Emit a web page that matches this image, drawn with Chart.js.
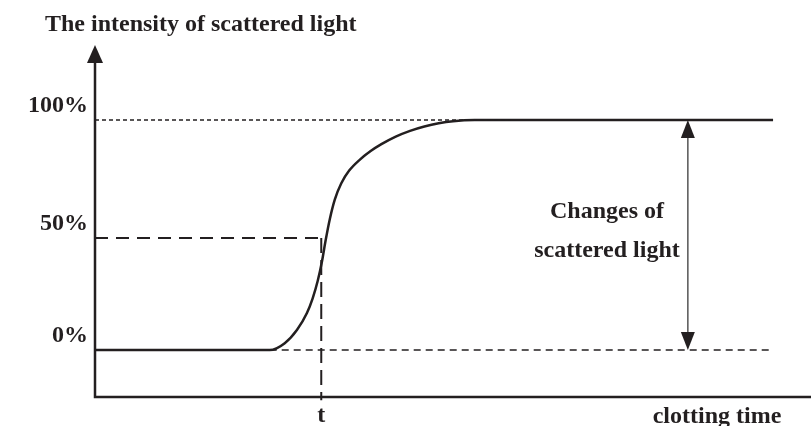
<!DOCTYPE html>
<html>
<head>
<meta charset="utf-8">
<script src="https://cdn.jsdelivr.net/npm/chart.js@4.4.1/dist/chart.umd.min.js"></script>
<style>
  html, body { margin: 0; padding: 0; background: #fff; }
  #wrap { width: 811px; height: 426px; }
</style>
</head>
<body>
<div id="wrap"><canvas id="clotChart"></canvas></div>
<script>
// curve of scattered light intensity vs clotting time
const curveX = [0, 24.4, 26.5, 28.2, 29.6, 30.4, 31.1, 31.7, 32.2, 32.8, 33.5, 34.4, 35.5, 37.0, 38.5, 40.0, 42.0, 44.0, 46.0, 48.0, 50.0, 53.0, 94.7];
const curveY = [0, 0, 3.0, 8.7, 16.1, 22.5, 30.0, 38.5, 47.5, 57.0, 65.5, 72.5, 78.0, 82.8, 86.5, 89.5, 92.8, 95.3, 97.2, 98.6, 99.5, 100, 100];

// reference levels and their labels
const levelValues = [0, 48.7, 100];
const levelLabels = ['0%', '50%', '100%'];

// clotting time t and the other guide positions
const tValue = 31.6;
const tLabel = 't';
const topDashEnd = 58;
const baseDashStart = 24.4;
const baseDashEnd = 94.3;
const arrowX = 82.8;

const yTitle = 'The intensity of scattered light';
const xTitle = 'clotting time';
const noteLines = ['Changes of', 'scattered light'];

const ink = '#231f20';
const font = 'bold 24px "Liberation Serif", "Times New Roman", serif';

function pts(xs, ys) {
    return xs.map((x, i) => ({ x: x, y: ys[i] }));
}

// axes, arrows and all the text
const decorPlugin = {
    id: 'decor',
    afterDraw(chart) {
        const ctx = chart.ctx;
        const xs = chart.scales.x;
        const ys = chart.scales.y;
        const area = chart.chartArea;
        ctx.save();

        // axes
        ctx.strokeStyle = ink;
        ctx.lineWidth = 2.5;
        ctx.beginPath();
        ctx.moveTo(area.left, area.top + 12);
        ctx.lineTo(area.left, area.bottom);
        ctx.lineTo(chart.width, area.bottom);
        ctx.stroke();

        // y axis arrow head
        ctx.fillStyle = ink;
        ctx.beginPath();
        ctx.moveTo(area.left, area.top);
        ctx.lineTo(area.left - 8, area.top + 18);
        ctx.lineTo(area.left + 8, area.top + 18);
        ctx.closePath();
        ctx.fill();

        // double arrow for the change
        const ax = xs.getPixelForValue(arrowX);
        const aTop = ys.getPixelForValue(levelValues[2]);
        const aBot = ys.getPixelForValue(levelValues[0]);
        ctx.strokeStyle = '#555';
        ctx.lineWidth = 1.5;
        ctx.beginPath();
        ctx.moveTo(ax, aTop + 10);
        ctx.lineTo(ax, aBot - 10);
        ctx.stroke();
        ctx.fillStyle = ink;
        ctx.beginPath();
        ctx.moveTo(ax, aTop);
        ctx.lineTo(ax - 7, aTop + 18);
        ctx.lineTo(ax + 7, aTop + 18);
        ctx.closePath();
        ctx.fill();
        ctx.beginPath();
        ctx.moveTo(ax, aBot);
        ctx.lineTo(ax - 7, aBot - 18);
        ctx.lineTo(ax + 7, aBot - 18);
        ctx.closePath();
        ctx.fill();

        // texts
        ctx.font = font;
        ctx.fillStyle = ink;
        ctx.textBaseline = 'alphabetic';

        ctx.textAlign = 'left';
        ctx.fillText(yTitle, 45, 31);

        ctx.textAlign = 'right';
        levelValues.forEach((v, i) => {
            ctx.fillText(levelLabels[i], area.left - 7, ys.getPixelForValue(v) - 8);
        });

        ctx.textAlign = 'center';
        ctx.fillText(tLabel, xs.getPixelForValue(tValue), area.bottom + 25);
        ctx.fillText(xTitle, 717, area.bottom + 26);

        ctx.fillText(noteLines[0], 607, 218);
        ctx.fillText(noteLines[1], 607, 257);

        ctx.restore();
    }
};

const ctx = document.getElementById('clotChart').getContext('2d');
new Chart(ctx, {
    type: 'scatter',
    data: {
        datasets: [
            {
                // upper dashed level (100%)
                data: pts([0, topDashEnd], [levelValues[2], levelValues[2]]),
                showLine: true,
                borderColor: ink,
                borderWidth: 1.5,
                borderDash: [4, 3],
                pointRadius: 0
            },
            {
                // 50% dashed level
                data: pts([0, tValue], [levelValues[1], levelValues[1]]),
                showLine: true,
                borderColor: ink,
                borderWidth: 2,
                borderDash: [13, 8],
                pointRadius: 0
            },
            {
                // vertical dashed at t
                data: pts([tValue, tValue], [levelValues[1], -21.8]),
                showLine: true,
                borderColor: ink,
                borderWidth: 2,
                borderDash: [15, 7],
                pointRadius: 0,
                clip: false
            },
            {
                // 0% dashed baseline
                data: pts([baseDashStart, baseDashEnd], [levelValues[0], levelValues[0]]),
                showLine: true,
                borderColor: ink,
                borderWidth: 1.5,
                borderDash: [7, 5],
                pointRadius: 0
            },
            {
                // the curve
                data: pts(curveX, curveY),
                showLine: true,
                borderColor: ink,
                borderWidth: 2.5,
                cubicInterpolationMode: 'monotone',
                pointRadius: 0
            }
        ]
    },
    options: {
        responsive: true,
        maintainAspectRatio: false,
        animation: false,
        layout: { padding: { left: 95, right: 0, top: 45, bottom: 29 } },
        plugins: {
            legend: { display: false },
            tooltip: { enabled: false }
        },
        scales: {
            x: { type: 'linear', min: 0, max: 100, display: false },
            y: { type: 'linear', min: -20.4, max: 132.6, display: false }
        }
    },
    plugins: [decorPlugin]
});
</script>
</body>
</html>
